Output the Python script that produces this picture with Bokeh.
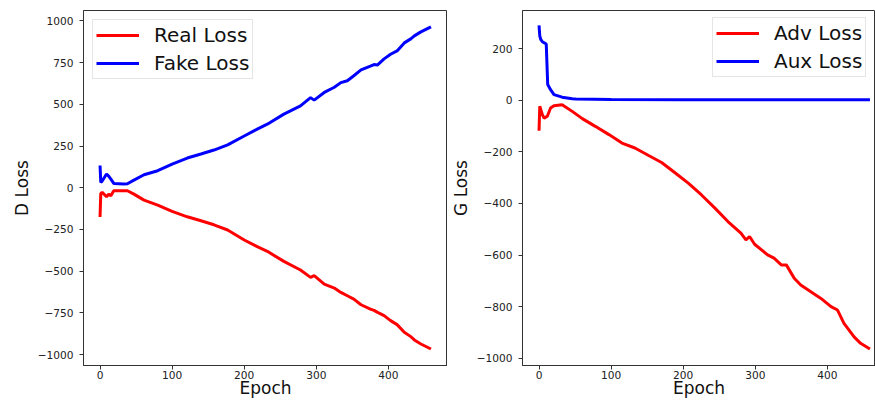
from bokeh.plotting import figure
from bokeh.layouts import row
from bokeh.models import Range1d, FixedTicker, Legend, LegendItem
from bokeh.embed import file_html
from bokeh.resources import INLINE

# ---------------- data ----------------
d_epoch = [0, 1, 3, 9, 12, 15, 19, 33, 38, 47, 61, 80, 100, 121, 140, 158, 177, 200,
           218, 232, 255, 278, 292, 297, 311, 325, 334, 343, 352, 362, 375, 380, 385,
           394, 403, 412, 422, 431, 436, 445, 459]
real_loss = [-175, -34, -28, -54, -38, -48, -18, -18, -18, -38, -74, -104, -142, -174, -198,
             -222, -253, -313, -353, -381, -441, -493, -537, -527, -577, -601, -627, -647,
             -667, -701, -727, -735, -747, -766, -796, -820, -866, -892, -912, -936, -966]
fake_loss = [133, 32, 40, 82, 70, 52, 26, 22, 24, 46, 78, 102, 142, 178, 202, 226, 257,
             310, 351, 381, 441, 491, 540, 525, 571, 602, 630, 641, 671, 706, 729, 738,
             736, 772, 800, 820, 868, 892, 910, 934, 964]

g_epoch = [0, 1, 4.6, 7, 11.5, 16, 20.7, 32, 46, 60, 78, 97, 115, 133, 152, 170, 189,
           207, 225, 244, 262, 280, 287, 292, 299, 317, 326, 336, 343, 354, 363, 377,
           391, 405, 414, 423, 437, 446, 459]
adv_loss = [-118, -23, -56, -69, -62, -30, -21, -17, -43, -71, -101, -133, -166, -185,
            -214, -241, -282, -321, -366, -418, -470, -515, -541, -528, -558, -599, -612,
            -638, -638, -690, -716, -742, -768, -800, -813, -865, -917, -942, -964]
aux_epoch = [0, 1, 2.3, 4.6, 10, 12, 16, 20.7, 32, 46, 51, 100, 200, 300, 400, 459]
aux_loss = [290, 250, 236, 227, 218, 61, 41, 22, 12, 6, 5, 3, 2, 2, 2, 2]

x_ticks = [0, 100, 200, 300, 400]
x_tick_labels = ["0", "100", "200", "300", "400"]
d_yticks = [-1000, -750, -500, -250, 0, 250, 500, 750, 1000]
d_ytick_labels = ["\u22121000", "\u2212750", "\u2212500", "\u2212250", "0", "250", "500", "750", "1000"]
g_yticks = [-1000, -800, -600, -400, -200, 0, 200]
g_ytick_labels = ["\u22121000", "\u2212800", "\u2212600", "\u2212400", "\u2212200", "0", "200"]

FONT = "DejaVu Sans"
FRAME = "#333333"
H = 401
TOP, BOTTOM = 10, 36
X_START, X_END_D, X_END_G = -22.95, 481.95, 466.7
D_Y = (-1065, 1062)
G_Y = (-1028, 348)


def style(p, xticks, xlabels, yticks, ylabels, xlab, ylab):
    p.grid.visible = False
    p.outline_line_color = FRAME
    p.outline_line_width = 1
    p.xaxis.ticker = FixedTicker(ticks=xticks)
    p.xaxis.major_label_overrides = dict(zip(xticks, xlabels))
    p.yaxis.ticker = FixedTicker(ticks=yticks)
    p.yaxis.major_label_overrides = dict(zip(yticks, ylabels))
    for ax in (p.xaxis[0], p.yaxis[0]):
        ax.axis_line_color = FRAME
        ax.major_tick_line_color = FRAME
        ax.major_tick_out = 4
        ax.major_tick_in = 0
        ax.minor_tick_line_color = None
        ax.major_label_text_font = FONT
        ax.major_label_text_font_size = "10.6px"
        ax.major_label_text_color = "#222222"
        ax.axis_label_text_font = FONT
        ax.axis_label_text_font_size = "17px"
        ax.axis_label_text_font_style = "normal"
        ax.axis_label_text_color = "#111111"
    p.xaxis.axis_label = xlab
    p.yaxis.axis_label = ylab
    p.xaxis.major_label_standoff = 1
    p.xaxis.axis_label_standoff = -4
    p.yaxis.major_label_standoff = 6
    p.yaxis.axis_label_standoff = 3


def make_legend(items, loc, margin=10):
    lg = Legend(items=items, location=loc)
    lg.label_text_font = FONT
    lg.label_text_font_size = "20px"
    lg.label_text_color = "#111111"
    lg.glyph_width = 43
    lg.glyph_height = 20
    lg.label_height = 20
    lg.label_standoff = 15
    lg.padding = 3
    lg.spacing = 4
    lg.margin = margin
    lg.border_line_color = "#cccccc"
    lg.border_line_width = 1
    lg.background_fill_alpha = 0.85
    return lg


p1 = figure(width=447, height=H, output_backend="svg", toolbar_location=None,
            x_range=Range1d(X_START, X_END_D), y_range=Range1d(*D_Y),
            min_border_left=83, min_border_right=0, min_border_top=TOP, min_border_bottom=BOTTOM)
r1 = p1.line(d_epoch, real_loss, line_color="#ff0000", line_width=3)
r2 = p1.line(d_epoch, fake_loss, line_color="#0000ff", line_width=3)
style(p1, x_ticks, x_tick_labels, d_yticks, d_ytick_labels, "Epoch", "D Loss")
p1.add_layout(make_legend([LegendItem(label="Real Loss", renderers=[r1]),
                           LegendItem(label="Fake Loss", renderers=[r2])], "top_left", margin=9))

p2 = figure(width=428, height=H, output_backend="svg", toolbar_location=None,
            x_range=Range1d(X_START, X_END_G), y_range=Range1d(*G_Y),
            min_border_left=73, min_border_right=0, min_border_top=TOP, min_border_bottom=BOTTOM)
r3 = p2.line(g_epoch, adv_loss, line_color="#ff0000", line_width=3)
r4 = p2.line(aux_epoch, aux_loss, line_color="#0000ff", line_width=3)
style(p2, x_ticks, x_tick_labels, g_yticks, g_ytick_labels, "Epoch", "G Loss")
p2.add_layout(make_legend([LegendItem(label="Adv Loss", renderers=[r3]),
                           LegendItem(label="Aux Loss", renderers=[r4])], (190, 288), margin=0))

layout = row(p1, p2)
open("out.html", "w").write(file_html(layout, INLINE))
